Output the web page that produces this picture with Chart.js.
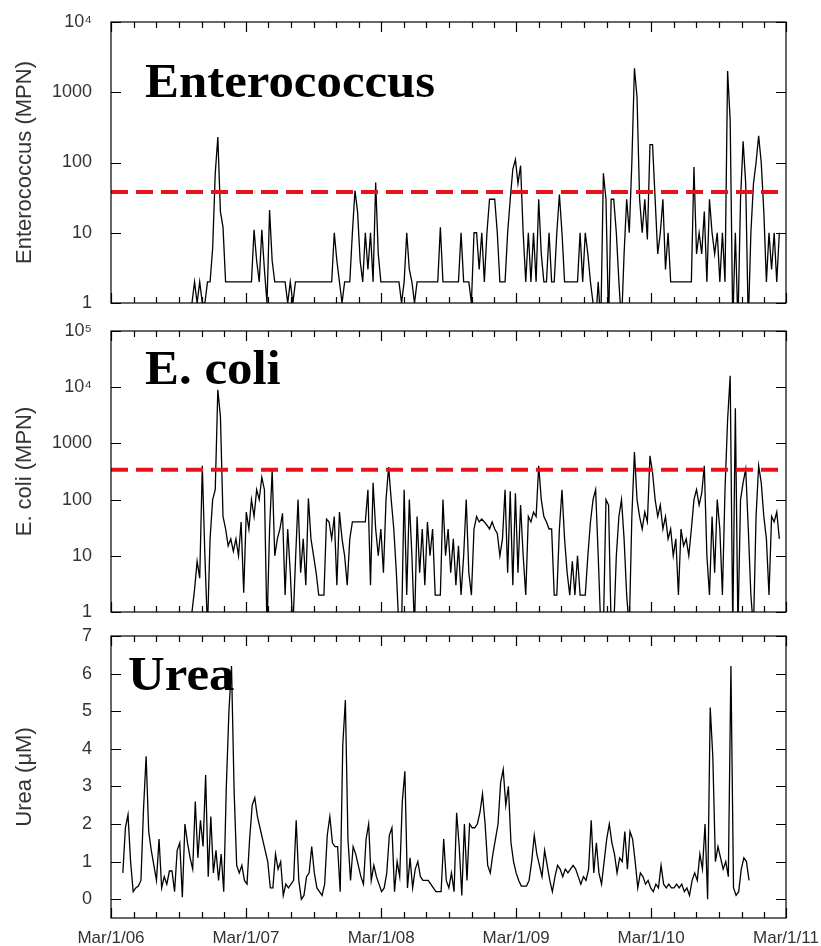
<!DOCTYPE html>
<html>
<head>
<meta charset="utf-8">
<script src="https://cdn.jsdelivr.net/npm/chart.js@4.4.0/dist/chart.umd.min.js"></script>
<style>
  body { margin: 0; background: #fff; }
  #wrap { position: relative; width: 821px; height: 946px; }
  canvas { position: absolute; left: 0; }
</style>
</head>
<body>
<div id="wrap">
  <canvas id="ent" width="821" height="314" style="top:0"></canvas>
  <canvas id="ecoli" width="821" height="310" style="top:314px"></canvas>
  <canvas id="urea" width="821" height="322" style="top:624px"></canvas>
</div>
<script>
// x axis runs in days since Mar/1/06
const day = (y, m) => (Date.UTC(y, m - 1, 1) - Date.UTC(2006, 2, 1)) / 86400000
const xMax = day(2011, 3)

const yearLabels = ['Mar/1/06', 'Mar/1/07', 'Mar/1/08', 'Mar/1/09', 'Mar/1/10', 'Mar/1/11']
const yearDays = [2006, 2007, 2008, 2009, 2010, 2011].map(y => day(y, 3))

// weekly samples
const bactStart = 219   // ~Oct/06/06
const ureaStart = 32    // ~Apr/02/06
const sampleStep = 7

// Enterococcus (MPN); values < 1 fall below the axis
const entValues = [
  1, 2, 1, 2, 1, 1, 2, 2, 6,
  70, 230, 20, 12, 2,
  2, 2, 2, 2, 2, 2, 2, 2, 2, 2,
  11, 4, 2, 11, 3, 1, 21, 4,
  2, 2, 2, 2, 2,
  1, 2, 1,
  2, 2, 2, 2, 2, 2, 2, 2, 2, 2, 2, 2, 2, 2, 2,
  10, 4, 2, 1,
  2, 2, 2,
  10, 40, 20, 4, 2, 10, 3, 10, 2, 52, 5,
  2, 2, 2, 2, 2, 2, 2, 2,
  1, 2, 10, 3, 2, 1,
  2, 2, 2, 2, 2, 2, 2, 2, 2,
  12, 2,
  2, 2, 2, 2, 2, 2,
  10, 2, 2, 2, 1,
  10, 10, 3, 10, 2, 10, 30, 30, 30, 10, 2, 2, 2,
  10, 30, 80, 110, 50, 90, 10, 2, 10, 2, 10, 2,
  30, 5, 2, 2, 10, 2, 2, 10, 35, 10, 2,
  2, 2, 2, 2, 2,
  10, 2, 10, 5, 2, 1, 0.5, 2, 0.5, 70, 30, 0.5, 30, 30, 10, 2, 0.5, 5, 30,
  10, 100, 2200, 850, 30, 10, 30, 8, 180, 180, 30, 5, 10, 30, 3, 10, 2,
  2, 2, 2, 2, 2, 2, 2, 2,
  86, 5, 10, 5, 20, 2, 30, 10, 5, 10,
  2, 10, 2, 2000, 400, 0.5, 10, 0.5, 30, 200,
  50, 0.5, 10, 50, 100, 240, 100, 20, 2, 10,
  3, 10, 2, 10
]

// E. coli (MPN)
const ecoliValues = [
  1, 2.5, 8, 4, 400, 10, 0.5, 20, 100, 150,
  9000, 3000, 50, 30, 15, 20, 12, 20, 10, 40,
  2.2, 60, 30, 100, 50, 150, 100, 250, 150, 0.5,
  30, 330, 10, 20, 30, 57, 2, 30, 5, 0.5,
  8, 100, 5, 20, 3, 105, 20, 10, 5, 2,
  2, 2, 45, 40, 20, 50, 3, 60, 20, 10,
  3, 20, 40, 40, 40, 40, 40, 40, 150, 3,
  200, 30, 10, 30, 5, 100, 380, 100, 30, 5,
  0.5, 0.5, 150, 2, 100, 10, 0.5, 50, 5, 30,
  3, 40, 10, 30, 2, 2, 2, 100, 10, 30,
  5, 20, 3, 15, 2, 10, 100, 5, 2, 30,
  50, 40, 45, 40, 35, 30, 40, 30, 25, 10,
  20, 150, 5, 140, 3, 130, 5, 80, 10, 2,
  50, 40, 60, 50, 400, 100, 50, 40, 30, 30,
  2, 2, 30, 150, 20, 5, 2, 8, 2, 10,
  2, 2, 2, 10, 40, 100, 150, 10, 0.5, 0.5,
  100, 80, 0.5, 0.5, 10, 50, 100, 20, 2, 0.5,
  50, 700, 100, 50, 30, 60, 40, 600, 300, 100,
  50, 80, 30, 50, 20, 30, 10, 20, 2, 30,
  15, 20, 10, 30, 100, 150, 80, 130, 400, 10,
  2, 50, 5, 100, 30, 2, 150, 2600, 16000, 0.5,
  4200, 0.5, 100, 200, 350, 30, 2, 0.5, 50, 400,
  200, 50, 20, 2, 50, 40, 60, 20
]

// Urea (uM)
const ureaValues = [
  0.7, 1.9, 2.25, 1.0, 0.2, 0.3, 0.35, 0.5, 2.4, 3.8,
  1.8, 1.3, 0.9, 0.5, 1.6, 0.3, 0.6, 0.4, 0.75, 0.75,
  0.2, 1.3, 1.5, 0.05, 2.0, 1.5, 1.1, 0.8, 2.6, 1.1,
  2.1, 1.4, 3.3, 0.6, 2.2, 0.7, 1.3, 0.5, 1.2, 0.2,
  3.0, 5.0, 6.2, 2.9, 0.9, 0.7, 0.9, 0.5, 0.4, 1.6,
  2.5, 2.7, 2.2, 1.9, 1.6, 1.3, 1.0, 0.3, 0.3, 1.2,
  0.8, 1.0, 0.1, 0.4, 0.3, 0.4, 0.5, 2.1, 0.5, 0.0,
  0.1, 0.6, 0.7, 1.4, 0.7, 0.3, 0.2, 0.1, 0.4, 1.7,
  2.2, 1.5, 1.4, 1.4, 0.2, 4.1, 5.3, 1.6, 0.5, 1.4,
  1.2, 0.9, 0.6, 0.4, 1.6, 2.0, 0.5, 0.9, 0.6, 0.4,
  0.2, 0.3, 0.7, 1.7, 1.9, 0.2, 1.0, 0.6, 2.6, 3.4,
  0.3, 1.1, 0.3, 0.8, 1.0, 0.6, 0.5, 0.5, 0.5, 0.4,
  0.3, 0.2, 0.2, 0.2, 1.6, 0.5, 0.3, 0.7, 0.2, 2.3,
  1.4, 0.1, 2.0, 0.5, 2.0, 1.9, 1.9, 2.0, 2.3, 2.8,
  2.0, 0.9, 0.7, 1.2, 1.6, 2.0, 3.1, 3.45, 2.5, 3.0,
  1.5, 1.0, 0.7, 0.5, 0.35, 0.35, 0.35, 0.5, 1.0, 1.7,
  1.2, 0.9, 0.6, 1.3, 0.9, 0.5, 0.2, 0.6, 0.9, 0.8,
  0.6, 0.8, 0.7, 0.8, 0.9, 0.8, 0.6, 0.4, 0.6, 0.5,
  0.8, 2.1, 0.7, 1.5, 0.7, 0.4, 1.0, 1.6, 2.0, 1.5,
  1.2, 0.7, 1.1, 1.0, 1.8, 0.8, 1.8, 1.6, 1.0, 0.3,
  0.7, 0.6, 0.4, 0.5, 0.3, 0.2, 0.4, 0.3, 0.9, 0.4,
  0.3, 0.4, 0.3, 0.3, 0.4, 0.3, 0.4, 0.2, 0.3, 0.1,
  0.5, 0.7, 0.5, 1.2, 0.8, 2.0, 0.0, 5.1, 3.8, 1.0,
  1.4, 1.1, 0.8, 1.0, 0.6, 6.2, 0.3, 0.1, 0.2, 0.8,
  1.1, 1.0, 0.5
]

// standards (dashed red lines)
const entLimit = 38
const ecoliLimit = 340

const entTicks = [1, 10, 100, 1000, 10000]
const entTickLabels = ['1', '10', '100', '1000', '10⁴']
const ecoliTicks = [1, 10, 100, 1000, 10000, 100000]
const ecoliTickLabels = ['1', '10', '100', '1000', '10⁴', '10⁵']
const ureaTicks = [0, 1, 2, 3, 4, 5, 6, 7]
const ureaTickLabels = ['0', '1', '2', '3', '4', '5', '6', '7']

// minor ticks every two months
const minorDays = []
for (let y = 2006; y <= 2011; y++) {
  [1, 3, 5, 7, 9, 11].forEach(m => {
    const d = day(y, m)
    if (d > 0 && d < xMax) minorDays.push(d)
  })
}

const toPoints = (vals, start) => vals.map((v, i) => ({ x: start + i * sampleStep, y: v }))

// frame, inward ticks and the big panel name
const framePlugin = {
  id: 'frame',
  afterDatasetsDraw (chart, args, opts) {
    const { ctx, chartArea: a, scales: { x, y } } = chart
    ctx.save()
    ctx.strokeStyle = '#000'
    ctx.lineWidth = 1.2
    ctx.strokeRect(a.left, a.top, a.right - a.left, a.bottom - a.top)
    ctx.beginPath()
    opts.yTicks.forEach(v => {
      const py = Math.round(y.getPixelForValue(v)) + 0.5
      ctx.moveTo(a.left, py); ctx.lineTo(a.left + 10, py)
      ctx.moveTo(a.right, py); ctx.lineTo(a.right - 10, py)
    })
    minorDays.concat(yearDays).forEach(d => {
      const px = Math.round(x.getPixelForValue(d)) + 0.5
      const len = yearDays.includes(d) ? 10 : 6
      ctx.moveTo(px, a.bottom); ctx.lineTo(px, a.bottom - len)
      ctx.moveTo(px, a.top); ctx.lineTo(px, a.top + len)
    })
    ctx.stroke()
    ctx.fillStyle = '#000'
    ctx.font = 'bold 48px "Liberation Serif"'
    ctx.textBaseline = 'alphabetic'
    ctx.translate(a.left + opts.nameDx, a.top + opts.nameDy)
    ctx.scale(1.06, 1)
    ctx.fillText(opts.name, 0, 0)
    ctx.restore()
  }
}

function makeChart (id, c) {
  const datasets = [
    { data: toPoints(c.values, c.start), borderColor: '#000', borderWidth: 1.3, pointRadius: 0, tension: 0, order: 1 }
  ]
  if (c.limit) {
    datasets.push({ data: [{ x: 0, y: c.limit }, { x: xMax, y: c.limit }], borderColor: '#e3141c', borderWidth: 4, borderDash: [17, 8], pointRadius: 0, order: 0 })
  }
  return new Chart(document.getElementById(id), {
    type: 'line',
    data: { datasets },
    plugins: [framePlugin],
    options: {
      responsive: false,
      animation: false,
      events: [],
      layout: { padding: { left: 0, right: 35, top: c.padTop, bottom: c.padBottom } },
      plugins: {
        legend: { display: false },
        tooltip: { enabled: false },
        frame: { yTicks: c.ticks, name: c.name, nameDx: c.nameDx, nameDy: c.nameDy }
      },
      scales: {
        x: {
          type: 'linear',
          min: 0,
          max: xMax,
          display: c.showX,
          afterBuildTicks: s => { s.ticks = yearDays.map(v => ({ value: v })) },
          afterFit: s => { if (c.showX) s.height = 28 },
          ticks: {
            autoSkip: false,
            maxRotation: 0,
            padding: 0,
            color: '#333',
            font: { family: 'Liberation Sans', size: 17 },
            callback: (v, i) => yearLabels[i]
          },
          // tick marks are drawn by the frame plugin; tickLength only spaces the labels
          grid: { display: false, drawTicks: true, tickLength: 10 },
          border: { display: false }
        },
        y: {
          type: c.log ? 'logarithmic' : 'linear',
          min: c.min,
          max: c.max,
          afterBuildTicks: s => { s.ticks = c.ticks.map(v => ({ value: v })) },
          afterFit: s => { s.width = 111 },
          ticks: {
            padding: 0,
            color: '#333',
            font: { family: 'Liberation Sans', size: 18 },
            callback: (v, i) => c.tickLabels[i]
          },
          title: {
            display: true,
            text: c.title,
            color: '#333',
            font: { family: 'Liberation Sans', size: 22 },
            padding: { top: 12, bottom: 0 }
          },
          grid: { display: false, drawTicks: true, tickLength: 19 },
          border: { display: false }
        }
      }
    }
  })
}

makeChart('ent', {
  values: entValues, start: bactStart, limit: entLimit, log: true, min: 1, max: 10000,
  ticks: entTicks, tickLabels: entTickLabels, title: 'Enterococcus (MPN)',
  name: 'Enterococcus', nameDx: 34, nameDy: 75, padTop: 22, padBottom: 11, showX: false
})
makeChart('ecoli', {
  values: ecoliValues, start: bactStart, limit: ecoliLimit, log: true, min: 1, max: 100000,
  ticks: ecoliTicks, tickLabels: ecoliTickLabels, title: 'E. coli (MPN)',
  name: 'E. coli', nameDx: 34, nameDy: 53, padTop: 17, padBottom: 12, showX: false
})
makeChart('urea', {
  values: ureaValues, start: ureaStart, limit: null, log: false, min: -0.5, max: 7,
  ticks: ureaTicks, tickLabels: ureaTickLabels, title: 'Urea (μM)',
  name: 'Urea', nameDx: 17, nameDy: 54, padTop: 12, padBottom: 0, showX: true
})
</script>
</body>
</html>
